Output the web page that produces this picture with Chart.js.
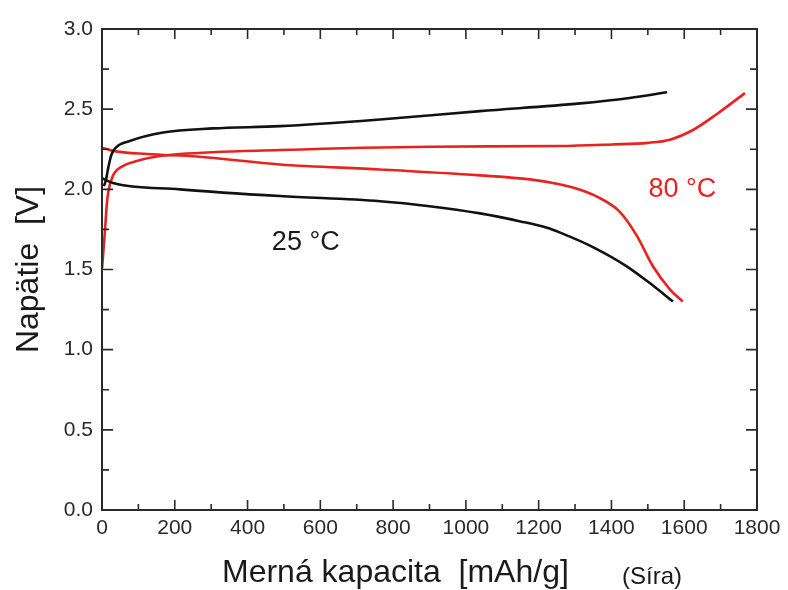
<!DOCTYPE html>
<html>
<head>
<meta charset="utf-8">
<script src="https://cdn.jsdelivr.net/npm/chart.js@4.4.1/dist/chart.umd.min.js"></script>
<style>
  html, body { margin: 0; padding: 0; background: #fff; }
  #wrap { width: 788px; height: 590px; }
</style>
</head>
<body>
<div id="wrap"><canvas id="c" width="788" height="590"></canvas></div>
<script>
// ---- data (capacity in mAh/g, voltage in V) ----
const xTicks = [0, 200, 400, 600, 800, 1000, 1200, 1400, 1600, 1800];
const yTicks = [0.0, 0.5, 1.0, 1.5, 2.0, 2.5, 3.0];

const black25ChargeX = [5, 11, 16, 25, 38, 74, 168, 305, 489, 764, 1039, 1314, 1450, 1553];
const black25ChargeY = [2.02, 2.06, 2.12, 2.21, 2.26, 2.30, 2.355, 2.38, 2.394, 2.436, 2.488, 2.536, 2.57, 2.605];

const black25DischX = [0, 30, 214, 489, 764, 900, 1039, 1150, 1223, 1259, 1349, 1442, 1514, 1569];
const black25DischY = [2.07, 2.04, 2.00, 1.958, 1.926, 1.895, 1.85, 1.80, 1.76, 1.73, 1.64, 1.52, 1.40, 1.30];

const red80ChargeX = [0, 5, 9, 13, 17, 29, 57, 93, 139, 214, 489, 901, 1259, 1400, 1500, 1561, 1624, 1690, 1767];
const red80ChargeY = [1.50, 1.65, 1.77, 1.90, 1.98, 2.08, 2.145, 2.175, 2.20, 2.22, 2.245, 2.266, 2.27, 2.28, 2.29, 2.31, 2.37, 2.47, 2.60];

const red80DischX = [0, 30, 124, 261, 489, 764, 1039, 1176, 1250, 1314, 1360, 1423, 1470, 1514, 1561, 1596];
const red80DischY = [2.26, 2.24, 2.22, 2.205, 2.155, 2.124, 2.087, 2.062, 2.035, 1.998, 1.955, 1.86, 1.71, 1.52, 1.375, 1.30];

const labels = { t25: '25 °C', t80: '80 °C' };
const label25Pos = [560, 1.67];
const label80Pos = [1595, 2.00];

// ---- helpers ----
function pts(xs, ys) { return xs.map((x, i) => ({ x: x, y: ys[i] })); }

const BLACK = '#111111';
const RED = '#e8231f';
const FONT = '"Liberation Sans", Arial, Helvetica, sans-serif';

function lineDs(xs, ys, color) {
  return {
    data: pts(xs, ys),
    showLine: true,
    borderColor: color,
    backgroundColor: color,
    borderWidth: 2.6,
    pointRadius: 0,
    cubicInterpolationMode: 'monotone',
    fill: false
  };
}

const framePlugin = {
  id: 'frame',
  afterDraw(chart) {
    const ctx = chart.ctx;
    const a = chart.chartArea;
    const xs = chart.scales.x, ys = chart.scales.y;
    ctx.save();
    // frame
    ctx.strokeStyle = '#2a2a2a';
    ctx.lineWidth = 2;
    ctx.strokeRect(a.left, a.top, a.right - a.left, a.bottom - a.top);
    // x ticks (bottom + top), majors at 200, minors at 100
    ctx.lineWidth = 1.6;
    for (let v = 0; v <= 1800; v += 100) {
      const px = xs.getPixelForValue(v);
      const len = (v % 200 === 0) ? 10 : 6;
      ctx.beginPath();
      ctx.moveTo(px, a.bottom); ctx.lineTo(px, a.bottom - len);
      ctx.moveTo(px, a.top); ctx.lineTo(px, a.top + len);
      ctx.stroke();
    }
    // y ticks (left + right), majors at 0.5, minors at 0.25
    for (let k = 0; k <= 12; k++) {
      const v = k * 0.25;
      const py = ys.getPixelForValue(v);
      const len = (k % 2 === 0) ? 11 : 7;
      ctx.beginPath();
      ctx.moveTo(a.left, py); ctx.lineTo(a.left + len, py);
      ctx.moveTo(a.right, py); ctx.lineTo(a.right - len, py);
      ctx.stroke();
    }
    // temperature labels
    ctx.textAlign = 'center';
    ctx.textBaseline = 'middle';
    ctx.font = '27px ' + FONT;
    ctx.fillStyle = '#1a1a1a';
    ctx.fillText(labels.t25, xs.getPixelForValue(label25Pos[0]), ys.getPixelForValue(label25Pos[1]));
    ctx.fillStyle = RED;
    ctx.fillText(labels.t80, xs.getPixelForValue(label80Pos[0]), ys.getPixelForValue(label80Pos[1]));
    // axis titles
    ctx.fillStyle = '#1a1a1a';
    ctx.font = '32px ' + FONT;
    ctx.textAlign = 'left';
    ctx.textBaseline = 'alphabetic';
    ctx.fillText('Merná kapacita  [mAh/g]', 222, 582);
    ctx.font = '24px ' + FONT;
    ctx.fillText('(Síra)', 622, 584);
    ctx.save();
    ctx.translate(38, (a.top + a.bottom) / 2);
    ctx.rotate(-Math.PI / 2);
    ctx.font = '32px ' + FONT;
    ctx.textAlign = 'center';
    ctx.textBaseline = 'alphabetic';
    ctx.fillText('Napätie  [V]', 0, 0);
    ctx.restore();
    ctx.restore();
  }
};

new Chart(document.getElementById('c'), {
  type: 'scatter',
  data: {
    datasets: [
      lineDs(black25ChargeX, black25ChargeY, BLACK),
      lineDs(black25DischX, black25DischY, BLACK),
      lineDs(red80ChargeX, red80ChargeY, RED),
      lineDs(red80DischX, red80DischY, RED)
    ]
  },
  options: {
    responsive: false,
    animation: false,
    devicePixelRatio: 1,
    layout: { padding: { top: 29, right: 31, bottom: 0, left: 0 } },
    plugins: { legend: { display: false }, tooltip: { enabled: false } },
    scales: {
      x: {
        type: 'linear', min: 0, max: 1800,
        afterBuildTicks(s) { s.ticks = xTicks.map(v => ({ value: v })); },
        afterFit(s) { s.height = 80; },
        grid: { display: false, drawTicks: false },
        border: { display: false },
        ticks: { color: '#2a2a2a', font: { family: FONT, size: 21 }, padding: 6, maxRotation: 0,
                 callback: v => String(v) }
      },
      y: {
        type: 'linear', min: 0, max: 3,
        afterBuildTicks(s) { s.ticks = yTicks.map(v => ({ value: v })); },
        afterFit(s) { s.width = 102; },
        grid: { display: false, drawTicks: false },
        border: { display: false },
        ticks: { color: '#2a2a2a', font: { family: FONT, size: 21 }, padding: 9,
                 callback: v => Number(v).toFixed(1) }
      }
    }
  },
  plugins: [framePlugin]
});
</script>
</body>
</html>
